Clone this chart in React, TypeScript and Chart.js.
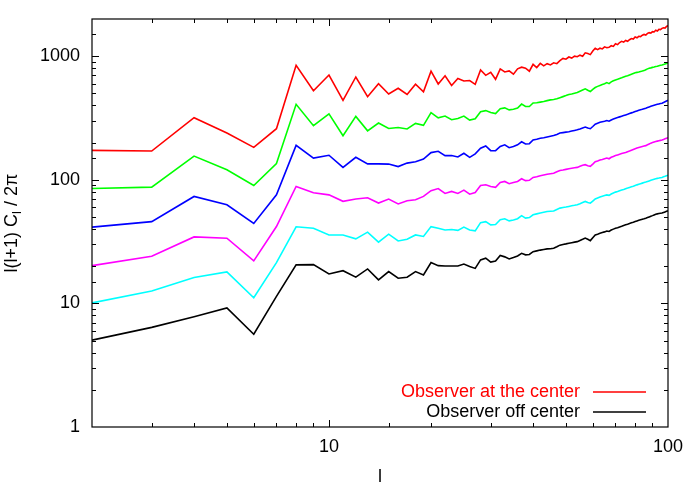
import { useEffect, useRef } from 'react';
import { Chart, registerables } from 'chart.js';

Chart.register(...registerables);

const ells = [
  2, 3, 4, 5, 6, 7, 8, 9, 10, 11,
  12, 13, 14, 15, 16, 17, 18, 19, 20, 21,
  22, 23, 24, 25, 26, 27, 28, 29, 30, 31,
  32, 33, 34, 35, 36, 37, 38, 39, 40, 41,
  42, 43, 44, 45, 46, 47, 48, 49, 50, 51,
  52, 53, 54, 55, 56, 57, 58, 59, 60, 61,
  62, 63, 64, 65, 66, 67, 68, 69, 70, 71,
  72, 73, 74, 75, 76, 77, 78, 79, 80, 81,
  82, 83, 84, 85, 86, 87, 88, 89, 90, 91,
  92, 93, 94, 95, 96, 97, 98, 99, 100,
];

const redValues = [
  173, 171, 318, 239, 183, 259, 843, 526, 704, 439,
  679, 470, 600, 495, 550, 490, 594, 515, 756, 596,
  694, 580, 660, 630, 636, 592, 773, 700, 740, 650,
  790, 745, 760, 715, 790, 815, 800, 756, 860, 810,
  875, 835, 870, 850, 885, 870, 920, 960, 945, 985,
  965, 1000, 990, 1020, 1000, 1065, 1050, 1030, 1100, 1160,
  1130, 1160, 1145, 1190, 1170, 1180, 1215, 1200, 1260, 1240,
  1290, 1320, 1300, 1340, 1320, 1360, 1390, 1375, 1430, 1410,
  1450, 1440, 1480, 1500, 1485, 1530, 1550, 1535, 1580, 1570,
  1620, 1600, 1650, 1640, 1680, 1700, 1690, 1740, 1770,
];

const greenValues = [
  85, 87.3, 155.6, 120.5, 90, 135.6, 408, 274, 342, 227,
  326, 249, 288, 260, 265, 258, 286, 276, 350, 317,
  328, 306, 313, 328, 304, 312, 356, 363, 350, 343,
  376, 382, 368, 372, 380, 410, 392, 392, 418, 420,
  425, 430, 437, 443, 447, 452, 462, 471, 480, 490,
  495, 502, 508, 520, 532, 544, 530, 518, 540, 558,
  570, 580, 590, 598, 612, 600, 620, 632, 643, 650,
  660, 668, 678, 688, 695, 705, 715, 725, 735, 740,
  745, 752, 758, 765, 778, 790, 800, 805, 812, 818,
  825, 830, 838, 845, 850, 858, 865, 872, 880,
];

const blueValues = [
  41.4, 45.9, 73.3, 62.8, 44.3, 75.6, 190, 150, 158, 126,
  152, 134.5, 134.5, 134, 128, 136.5, 140, 147, 166, 170,
  157, 157, 153, 164, 152, 162, 180, 188, 172, 172,
  186, 192, 182, 186, 192, 203, 195, 196, 210, 213,
  217, 219, 222, 225, 228, 233, 239, 241, 243, 245,
  248, 251, 254, 258, 263, 267, 262, 259, 270, 282,
  287, 292, 295, 298, 302, 298, 305, 310, 315, 319,
  323, 327, 331, 335, 339, 344, 348, 352, 357, 361,
  365, 369, 372, 376, 380, 385, 389, 393, 397, 401,
  405, 408, 411, 414, 417, 422, 428, 434, 440,
];

const magentaValues = [
  20.2, 24.1, 34.5, 33.7, 22.1, 41.9, 88.3, 78.6, 75.5, 67,
  70, 71.5, 64.8, 69.8, 63.8, 67.6, 69, 73.4, 81.7, 85,
  77.5, 80.5, 77.5, 82.5, 76.5, 79, 89.9, 91.2, 88.3, 86.8,
  95, 97, 93, 95, 97, 102, 98.5, 99, 104.5, 106,
  108, 109.5, 111, 112, 113, 116, 119, 120, 121.5, 123,
  124, 125, 126, 128.5, 131, 132.5, 130, 128.5, 134, 140,
  142, 144.5, 146, 148, 150, 148, 152, 154.5, 157, 159,
  161, 163, 165, 166.5, 169, 171, 173.5, 176, 178.5, 180.5,
  182.5, 184.5, 186, 187.5, 189, 192, 195, 198, 200, 202,
  204, 205.5, 207, 208.5, 210, 212, 214.5, 217, 219,
];

const cyanValues = [
  10.1, 12.6, 16.2, 18, 11.1, 21.4, 41.7, 40.5, 35.8, 35.8,
  33.3, 37.7, 31.3, 36.3, 32, 33, 35.8, 34.8, 41.8, 40.5,
  39.3, 39.6, 39, 41.4, 39.3, 38.6, 45, 45.9, 43.2, 43.5,
  47.5, 48.4, 46.5, 47.3, 48.4, 51.3, 49, 49.5, 52.1, 53,
  53.8, 54.6, 55.4, 55.7, 56, 57.5, 59, 59.6, 60.2, 60.9,
  61.6, 62.2, 62.9, 64, 65.5, 66.8, 65.5, 64.7, 67.3, 70,
  71.3, 72.5, 73.5, 74.5, 75.5, 74.8, 76.8, 78.2, 79.5, 80.5,
  81.6, 82.6, 83.6, 84.7, 85.7, 86.8, 87.8, 88.8, 89.9, 91,
  92, 93, 94, 95, 95.9, 97, 98, 99, 100, 101,
  102, 102.7, 103.3, 104, 104.5, 105.7, 106.8, 108, 109,
];

const blackValues = [
  5.04, 6.4, 7.8, 9.2, 5.63, 11.4, 20.5, 20.6, 17.3, 18.4,
  16.3, 19, 15.5, 18.1, 16, 16.3, 18.1, 17, 21.4, 20.2,
  20.1, 20.1, 20.1, 20.8, 19.9, 19.2, 22.5, 23.2, 21.6, 22,
  24.4, 23.8, 22.9, 23.5, 24.2, 25.4, 24.7, 24.9, 26.2, 26.6,
  27, 27.3, 27.6, 27.7, 27.9, 28.7, 29.6, 30, 30.3, 30.7,
  31, 31.3, 31.6, 32.3, 33, 33.8, 33, 32.2, 34, 35.8,
  36.3, 36.9, 37.4, 37.9, 38.5, 38.2, 39.2, 39.9, 40.5, 41,
  41.6, 42.1, 42.7, 43.2, 43.7, 44.3, 44.9, 45.4, 46, 46.5,
  47, 47.5, 48, 48.4, 48.9, 49.5, 50.1, 50.7, 51.3, 52,
  52.7, 53, 53.3, 53.6, 53.8, 54.4, 55, 55.6, 56.1,
];

const xTickLabels = [10, 100];
const yTickLabels = [1, 10, 100, 1000];
const legendLabels = ['Observer at the center', 'Observer off center'];
const xTitle = 'l';

const FONT = "'Liberation Sans', Arial, Helvetica, sans-serif";

const isDecade = (v: number) => Math.abs(Math.log10(v) - Math.round(Math.log10(v))) < 1e-9;

const framePlugin = {
  id: 'gnuFrame',
  afterDraw(chart: any) {
    const { ctx, chartArea: a, scales } = chart;
    ctx.save();
    ctx.strokeStyle = '#000';
    ctx.lineWidth = 1.2;
    ctx.strokeRect(a.left, a.top, a.right - a.left, a.bottom - a.top);
    ctx.lineWidth = 1;
    ctx.beginPath();
    for (const t of scales.x.ticks) {
      const v = t.value;
      if (v <= 2 || v >= 100) continue;
      const px = Math.round(scales.x.getPixelForValue(v)) + 0.5;
      const len = isDecade(v) ? 7 : 4;
      ctx.moveTo(px, a.bottom);
      ctx.lineTo(px, a.bottom - len);
      ctx.moveTo(px, a.top);
      ctx.lineTo(px, a.top + len);
    }
    for (const t of scales.y.ticks) {
      const v = t.value;
      if (v <= 1 || v >= 2000) continue;
      const py = Math.round(scales.y.getPixelForValue(v)) + 0.5;
      const len = isDecade(v) ? 7 : 4;
      ctx.moveTo(a.left, py);
      ctx.lineTo(a.left + len, py);
      ctx.moveTo(a.right, py);
      ctx.lineTo(a.right - len, py);
    }
    ctx.stroke();

    // legend
    const colors = ['#ff0000', '#000000'];
    ctx.font = `18px ${FONT}`;
    ctx.textAlign = 'right';
    ctx.textBaseline = 'middle';
    legendLabels.forEach((lab, i) => {
      const y = a.bottom - 35 + i * 20;
      ctx.fillStyle = colors[i];
      ctx.fillText(lab, a.right - 88, y);
      ctx.strokeStyle = colors[i];
      ctx.lineWidth = 1.5;
      ctx.beginPath();
      ctx.moveTo(a.right - 75, y);
      ctx.lineTo(a.right - 22, y);
      ctx.stroke();
    });

    // x title
    ctx.fillStyle = '#000';
    ctx.textAlign = 'center';
    ctx.textBaseline = 'alphabetic';
    ctx.font = `18px ${FONT}`;
    ctx.fillText(xTitle, (a.left + a.right) / 2, 482);

    // y title: l(l+1) C_l / 2π
    const cy = (a.top + a.bottom) / 2;
    const main = `18px ${FONT}`;
    const sub = `13px ${FONT}`;
    const p1 = 'l(l+1) C';
    const p2 = 'l';
    const p3 = ' / 2\u03c0';
    ctx.font = main;
    const w1 = ctx.measureText(p1).width;
    const w3 = ctx.measureText(p3).width;
    ctx.font = sub;
    const w2 = ctx.measureText(p2).width;
    const total = w1 + w2 + w3;
    ctx.translate(17, cy);
    ctx.rotate(-Math.PI / 2);
    ctx.textAlign = 'left';
    let x = -total / 2;
    ctx.font = main;
    ctx.fillText(p1, x, 0);
    x += w1;
    ctx.font = sub;
    ctx.fillText(p2, x, 4);
    x += w2;
    ctx.font = main;
    ctx.fillText(p3, x, 0);
    ctx.restore();
  },
};

export default function App() {
  const ref = useRef<HTMLCanvasElement | null>(null);

  useEffect(() => {
    document.body.style.margin = '0';
    const mk = (vals: number[]) => ells.map((l, i) => ({ x: l, y: vals[i] }));
    const series = [
      { vals: redValues, color: '#ff0000' },
      { vals: greenValues, color: '#00ff00' },
      { vals: blueValues, color: '#0000ff' },
      { vals: magentaValues, color: '#ff00ff' },
      { vals: cyanValues, color: '#00ffff' },
      { vals: blackValues, color: '#000000' },
    ];
    const chart = new Chart(ref.current as HTMLCanvasElement, {
      type: 'line',
      data: {
        datasets: series.map((s) => ({
          data: mk(s.vals),
          borderColor: s.color,
          backgroundColor: s.color,
          borderWidth: 1.6,
          pointRadius: 0,
          tension: 0,
          fill: false,
        })),
      },
      options: {
        animation: false,
        responsive: false,
        events: [],
        layout: { padding: { top: 19, right: 24, left: 0, bottom: 0 } },
        plugins: { legend: { display: false }, tooltip: { enabled: false } },
        scales: {
          x: {
            type: 'logarithmic',
            min: 2,
            max: 100,
            grid: { display: false, drawTicks: false },
            border: { display: false },
            ticks: {
              autoSkip: false,
              maxRotation: 0,
              padding: 9,
              color: '#000',
              font: { family: FONT, size: 18 },
              callback: (v: any) => (xTickLabels.includes(Number(v)) ? String(v) : ''),
            },
            afterFit: (s: any) => {
              s.height = 58;
              s.paddingLeft = 0;
              s.paddingRight = 0;
              s.paddingTop = 0;
              s.paddingBottom = 0;
            },
          },
          y: {
            type: 'logarithmic',
            min: 1,
            max: 2000,
            grid: { display: false, drawTicks: false },
            border: { display: false },
            ticks: {
              autoSkip: false,
              padding: 12,
              color: '#000',
              font: { family: FONT, size: 18 },
              callback: (v: any) => (yTickLabels.includes(Number(v)) ? String(v) : ''),
            },
            afterFit: (s: any) => {
              s.width = 92;
              s.paddingTop = 0;
              s.paddingBottom = 0;
              s.paddingLeft = 0;
              s.paddingRight = 0;
            },
          },
        },
      },
      plugins: [framePlugin],
    } as any);
    return () => chart.destroy();
  }, []);

  return (
    <div style={{ width: 692, height: 485 }}>
      <canvas ref={ref} width={692} height={485} style={{ display: 'block' }} />
    </div>
  );
}
